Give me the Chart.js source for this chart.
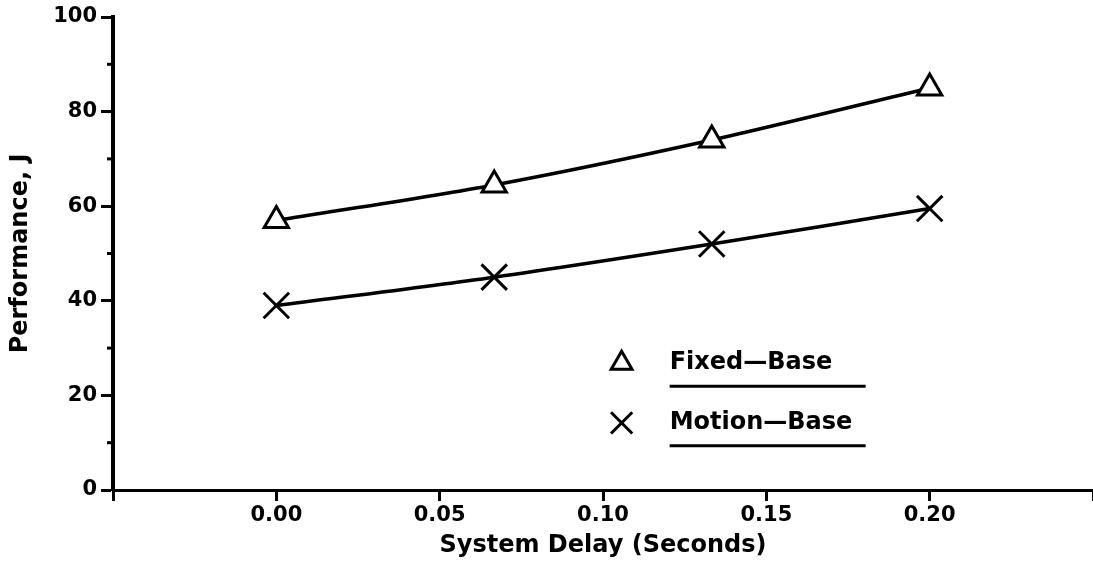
<!DOCTYPE html>
<html>
<head>
<meta charset="utf-8">
<script src="https://cdn.jsdelivr.net/npm/chart.js@4/dist/chart.umd.min.js"></script>
<style>
  html, body { margin: 0; padding: 0; background: #fff; }
  #wrap { width: 1093px; height: 570px; }
</style>
</head>
<body>
<div id="wrap"><canvas id="chart" width="1093" height="570"></canvas></div>
<script>
// system delay (s) and performance J for both simulator modes
const delays = [0, 0.0667, 0.1333, 0.2];
const fixedBase = [57, 64.5, 74, 85];
const motionBase = [39, 45, 52, 59.5];
const seriesNames = ['Fixed\u2014Base', 'Motion\u2014Base'];
const yMinorTicks = [10, 30, 50, 70, 90];

const FONT = 'DejaVu Sans';

const toPoints = (ys) => delays.map((x, i) => ({ x: x, y: ys[i] }));

// small ticks between the labelled ones on the y axis
const minorTicks = {
  id: 'minorTicks',
  afterDraw(chart) {
    const { ctx, chartArea, scales } = chart;
    ctx.save();
    ctx.strokeStyle = '#000';
    ctx.lineWidth = 3;
    yMinorTicks.forEach((v) => {
      const y = scales.y.getPixelForValue(v);
      ctx.beginPath();
      ctx.moveTo(chartArea.left - 6, y);
      ctx.lineTo(chartArea.left, y);
      ctx.stroke();
    });
    ctx.restore();
  },
};

// legend inside the plot, with underlined names
const boxLegend = {
  id: 'boxLegend',
  afterDraw(chart) {
    const { ctx, chartArea } = chart;
    const w = chartArea.right - chartArea.left;
    const h = chartArea.bottom - chartArea.top;
    const symX = chartArea.left + w * 0.519;
    const textX = chartArea.left + w * 0.568;
    const rows = [chartArea.top + h * 0.732, chartArea.top + h * 0.858];
    ctx.save();
    ctx.textBaseline = 'middle';
    ctx.strokeStyle = '#000';
    chart.data.datasets.forEach((ds, i) => {
      const y = rows[i];
      ctx.lineWidth = 3;
      ctx.fillStyle = '#fff';
      Chart.helpers.drawPoint(ctx, {
        pointStyle: ds.pointStyle,
        radius: ds.pointStyle === 'triangle' ? 12 : 15,
        borderWidth: 3,
      }, symX, y);
      ctx.fillStyle = '#000';
      ctx.font = 'bold 24px ' + FONT;
      ctx.fillText(seriesNames[i], textX, y);
      ctx.beginPath();
      ctx.lineWidth = 3;
      ctx.moveTo(textX, y + 23);
      ctx.lineTo(textX + 196, y + 23);
      ctx.stroke();
    });
    ctx.restore();
  },
};

new Chart(document.getElementById('chart'), {
  type: 'line',
  data: {
    datasets: [
      {
        label: seriesNames[0],
        data: toPoints(fixedBase),
        borderColor: '#000',
        borderWidth: 3.5,
        tension: 0.3,
        pointStyle: 'triangle',
        pointRadius: 14,
        pointBorderWidth: 3,
        pointBorderColor: '#000',
        pointBackgroundColor: '#fff',
      },
      {
        label: seriesNames[1],
        data: toPoints(motionBase),
        borderColor: '#000',
        borderWidth: 3.5,
        tension: 0.3,
        pointStyle: 'crossRot',
        pointRadius: 18,
        pointBorderWidth: 3,
        pointBorderColor: '#000',
        pointBackgroundColor: '#fff',
      },
    ],
  },
  options: {
    responsive: false,
    animation: false,
    layout: { autoPadding: false, padding: { top: 17, right: 0, left: 0, bottom: 0 } },
    plugins: {
      legend: { display: false },
      tooltip: { enabled: false },
    },
    scales: {
      x: {
        type: 'linear',
        min: -0.05,
        max: 0.25,
        afterFit: (scale) => {
          scale.height = 80;
          scale.paddingLeft = 0;
          scale.paddingRight = 0;
        },
        border: { display: true, color: '#000', width: 3 },
        grid: {
          drawOnChartArea: false,
          drawTicks: true,
          tickLength: 11,
          tickWidth: 3,
          tickColor: '#000',
        },
        ticks: {
          stepSize: 0.05,
          color: '#000',
          padding: 2,
          maxRotation: 0,
          font: { family: FONT, size: 21, weight: 'bold' },
          callback: (v) => {
            const r = Math.round(v * 100) / 100;
            return r < 0 || r > 0.2 ? '' : r.toFixed(2);
          },
        },
        title: {
          display: true,
          text: 'System Delay (Seconds)',
          color: '#000',
          padding: { top: 0, bottom: 10 },
          font: { family: FONT, size: 24, weight: 'bold' },
        },
      },
      y: {
        min: 0,
        max: 100,
        afterFit: (scale) => { scale.width = 113; },
        border: { display: true, color: '#000', width: 4 },
        grid: {
          drawOnChartArea: false,
          tickLength: 12,
          tickWidth: 3,
          tickColor: '#000',
        },
        ticks: {
          stepSize: 20,
          color: '#000',
          padding: 4,
          font: { family: FONT, size: 21, weight: 'bold' },
        },
        title: {
          display: true,
          text: 'Performance, J',
          color: '#000',
          padding: { top: 6, bottom: 4 },
          font: { family: FONT, size: 24, weight: 'bold' },
        },
      },
    },
  },
  plugins: [minorTicks, boxLegend],
});
</script>
</body>
</html>
